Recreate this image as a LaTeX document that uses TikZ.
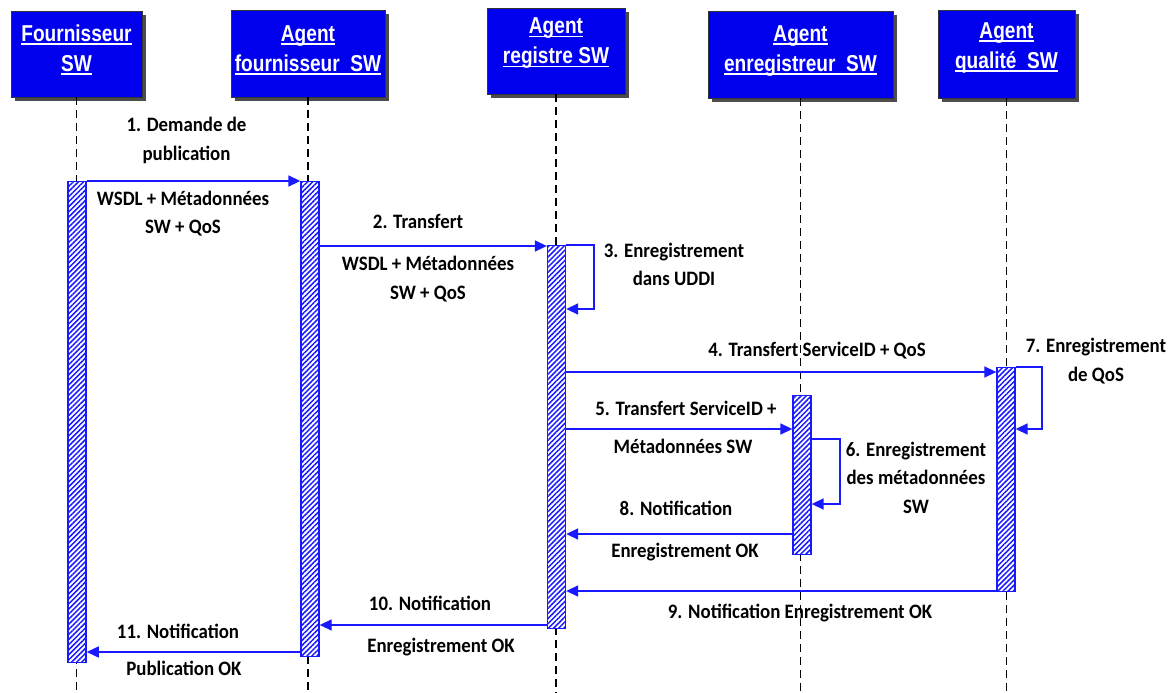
\documentclass[tikz,border=0pt]{standalone}
\usepackage{fontspec}
\setmainfont{Carlito}[FakeStretch=0.92]
\newfontfamily\hdrfont{Liberation Sans}[FakeStretch=0.83]
\usetikzlibrary{arrows.meta,patterns.meta,shadows}

\definecolor{hblue}{RGB}{0,0,238}
\definecolor{ablue}{RGB}{25,25,255}

% white underline under each header line
\newcommand\hul[1]{\setbox0\hbox{#1}\rlap{\rule[-3.5pt]{\wd0}{1.8pt}}\box0}

\tikzset{
  hdrbox/.style={draw=black!80, line width=0.6pt, fill=hblue, inner sep=0pt,
    drop shadow={shadow xshift=4pt, shadow yshift=-4pt, fill=black!70, opacity=1}},
  hdrtext/.style={text=white, align=center, inner sep=0pt,
    font=\hdrfont\bfseries\fontsize{23}{30}\selectfont},
  life/.style={draw=black, line width=1.4pt, dash pattern=on 8pt off 5pt},
  actbar/.style={draw=ablue, line width=1.3pt, minimum width=18pt, inner sep=0pt,
    anchor=north, preaction={fill=white},
    pattern={Lines[angle=45,distance=3.6pt,line width=1.5pt]}, pattern color=ablue},
  msg/.style={draw=ablue, line width=1.5pt, -{Triangle[length=12pt,width=11pt]}},
  lbl/.style={align=center, inner sep=0pt,
    font=\bfseries\fontsize{20.5}{28.5}\selectfont}
}

\begin{document}
\begin{tikzpicture}[x=1pt, y=-1pt]
\useasboundingbox (0,0) rectangle (1175,693);

% participant headers
\node[hdrbox, minimum width=131pt, minimum height=86pt] (h1) at (76.5,54) {};
\node[hdrbox, minimum width=154pt, minimum height=87pt] (h2) at (308,53.5) {};
\node[hdrbox, minimum width=138pt, minimum height=86pt] (h3) at (556,51) {};
\node[hdrbox, minimum width=185pt, minimum height=87pt] (h4) at (800.5,54.5) {};
\node[hdrbox, minimum width=137pt, minimum height=88pt] (h5) at (1006.5,54) {};

\node[hdrtext] (t1) at (76.5,50) {\hul{Fournisseur}\\\hul{SW}};
\node[hdrtext] (t2) at (308,50.5) {\hul{Agent}\\\hul{fournisseur~~SW}};
\node[hdrtext] (t3) at (556,43.5) {\hul{Agent}\\\hul{registre SW}};
\node[hdrtext] (t4) at (800.5,51) {\hul{Agent}\\\hul{enregistreur~~SW}};
\node[hdrtext] (t5) at (1006.5,48) {\hul{Agent}\\\hul{qualité~~SW}};

% lifelines
\foreach \h in {h1,h2,h3,h4,h5}
  \draw[life] (\h.south) -- (\h.south |- 0,693);

% activation bars
\node[actbar, minimum height=481pt] (b1) at (77,181) {};
\node[actbar, minimum height=475pt] (b2) at (310,181) {};
\node[actbar, minimum height=383pt] (b3) at (556.5,245) {};
\node[actbar, minimum height=159pt] (b4) at (802,395) {};
\node[actbar, minimum height=224pt] (b5) at (1006,367) {};

% messages
\draw[msg] (b1.north east) -- (b2.north west);
\draw[msg] (b2.east |- 0,246) -- (b3.west |- 0,246);
\draw[msg] (b3.east |- 0,245) -- (594,245) -- (594,309) -- (b3.east |- 0,309);
\draw[msg] (b3.east |- 0,372) -- (b5.west |- 0,372);
\draw[msg] (b3.east |- 0,429) -- (b4.west |- 0,429);
\draw[msg] (b4.east |- 0,439) -- (840,439) -- (840,504) -- (b4.east |- 0,504);
\draw[msg] (b5.east |- 0,367) -- (1042,367) -- (1042,429) -- (b5.east |- 0,429);
\draw[msg] (b4.west |- 0,534) -- (b3.east |- 0,534);
\draw[msg] (b5.west |- 0,591) -- (b3.east |- 0,591);
\draw[msg] (b3.west |- 0,625) -- (b2.east |- 0,625);
\draw[msg] (b2.west |- 0,652) -- (b1.east |- 0,652);

% message labels
\node[lbl] (m1a) at (186.5,140.5) {1. Demande de\\publication};
\node[lbl] (m1b) at (183,213.5) {WSDL + Métadonnées\\SW + QoS};
\node[lbl] (m2a) at (418,221) {2. Transfert};
\node[lbl] (m2b) at (428,279) {WSDL + Métadonnées\\SW + QoS};
\node[lbl] (m3) at (674,264.5) {3. Enregistrement\\dans UDDI};
\node[lbl] (m4) at (817,351) {4. Transfert ServiceID + QoS};
\node[lbl] (m7) at (1096,361) {7. Enregistrement\\de QoS};
\node[lbl] (m5a) at (686,408) {5. Transfert ServiceID +};
\node[lbl] (m5b) at (683,446) {Métadonnées SW};
\node[lbl] (m6) at (916,477.5) {6. Enregistrement\\des métadonnées\\SW};
\node[lbl] (m8a) at (676,508) {8. Notification};
\node[lbl] (m8b) at (685,552) {Enregistrement OK};
\node[lbl] (m9) at (800,613) {9. Notification Enregistrement OK};
\node[lbl] (m10a) at (430,603) {10. Notification};
\node[lbl] (m10b) at (441,647) {Enregistrement OK};
\node[lbl] (m11a) at (178,631) {11. Notification};
\node[lbl] (m11b) at (184,668) {Publication OK};
\end{tikzpicture}
\end{document}
